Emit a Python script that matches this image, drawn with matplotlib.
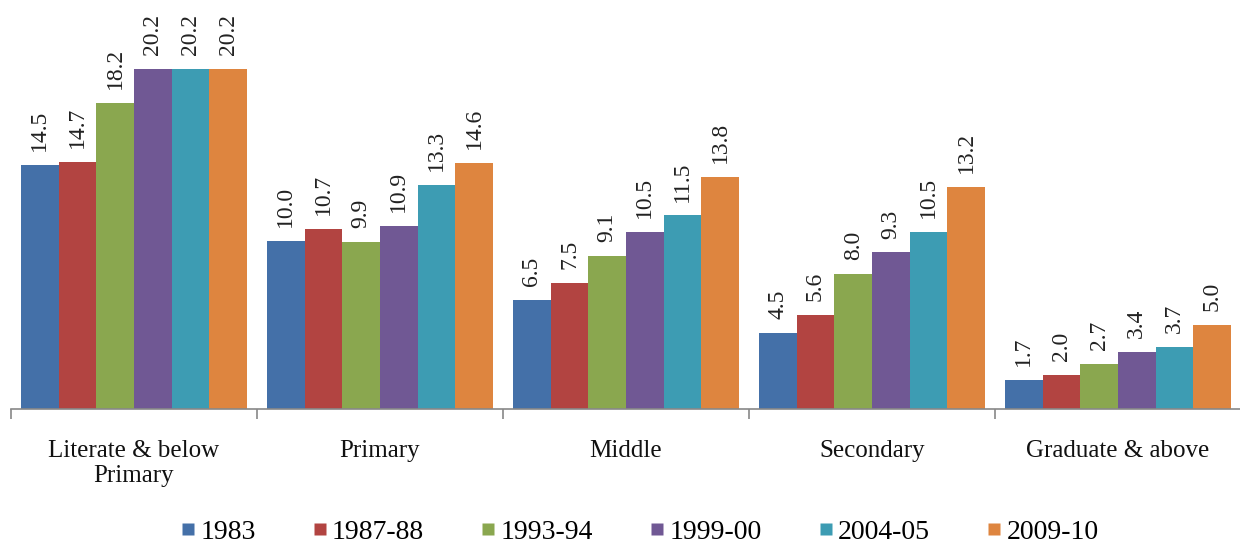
import matplotlib
matplotlib.use("Agg")
import matplotlib.pyplot as plt
from matplotlib.lines import Line2D
import numpy as np

categories = ["Literate & below\nPrimary", "Primary", "Middle", "Secondary", "Graduate & above"]
series_names = ["1983", "1987-88", "1993-94", "1999-00", "2004-05", "2009-10"]
v1983 = [14.5, 10.0, 6.5, 4.5, 1.7]
v1987 = [14.7, 10.7, 7.5, 5.6, 2.0]
v1993 = [18.2, 9.9, 9.1, 8.0, 2.7]
v1999 = [20.2, 10.9, 10.5, 9.3, 3.4]
v2004 = [20.2, 13.3, 11.5, 10.5, 3.7]
v2009 = [20.2, 14.6, 13.8, 13.2, 5.0]
series_values = [v1983, v1987, v1993, v1999, v2004, v2009]
colors = ["#4470A8", "#B24441", "#8AA74F", "#705894", "#3D9CB3", "#DE853F"]

plt.rcParams["font.family"] = ["Liberation Serif", "DejaVu Serif"]

fig = plt.figure(figsize=(12.4, 5.46), dpi=100)
ax = fig.add_axes([11 / 1240, 137 / 546, 1230 / 1240, 409 / 546])

x = np.arange(len(categories))
w = 0.153
for j, (name, vals, c) in enumerate(zip(series_names, series_values, colors)):
    pos = x + (j - 2.5) * w
    ax.bar(pos, vals, width=w, color=c, edgecolor="none", label=name)
    for xi, v in zip(pos, vals):
        ax.annotate(f"{v:.1f}", (xi, v), xytext=(0, 10), textcoords="offset points",
                    rotation=90, ha="center", va="bottom", fontsize=17, color="#222222")

ax.set_xlim(-0.5, len(categories) - 0.5)
ax.set_ylim(0, 24.3)

for s in ["top", "right", "left"]:
    ax.spines[s].set_visible(False)
ax.spines["bottom"].set_color("#888888")
ax.spines["bottom"].set_linewidth(1.2)
ax.set_yticks([])

ax.set_xticks(np.arange(-0.5, len(categories), 1.0))
ax.set_xticklabels([""] * len(np.arange(-0.5, len(categories), 1.0)))
ax.tick_params(axis="x", which="major", length=7, color="#888888", width=1.2, direction="out")
ax.set_xticks(x, minor=True)
ax.set_xticklabels(categories, minor=True, fontsize=18, color="#111111", linespacing=1.2)
ax.tick_params(axis="x", which="minor", length=0, pad=22)

handles = [Line2D([0], [0], marker="s", linestyle="none", markersize=8.5,
                  markerfacecolor=c, markeredgecolor="none") for c in colors]
fig.legend(handles, series_names, loc="center", bbox_to_anchor=(639 / 1240, 1 - 532 / 546),
           ncol=6, frameon=False, fontsize=20, handlelength=0.6, handletextpad=0.15,
           columnspacing=2.0)

fig.savefig("out.png", dpi=100)
